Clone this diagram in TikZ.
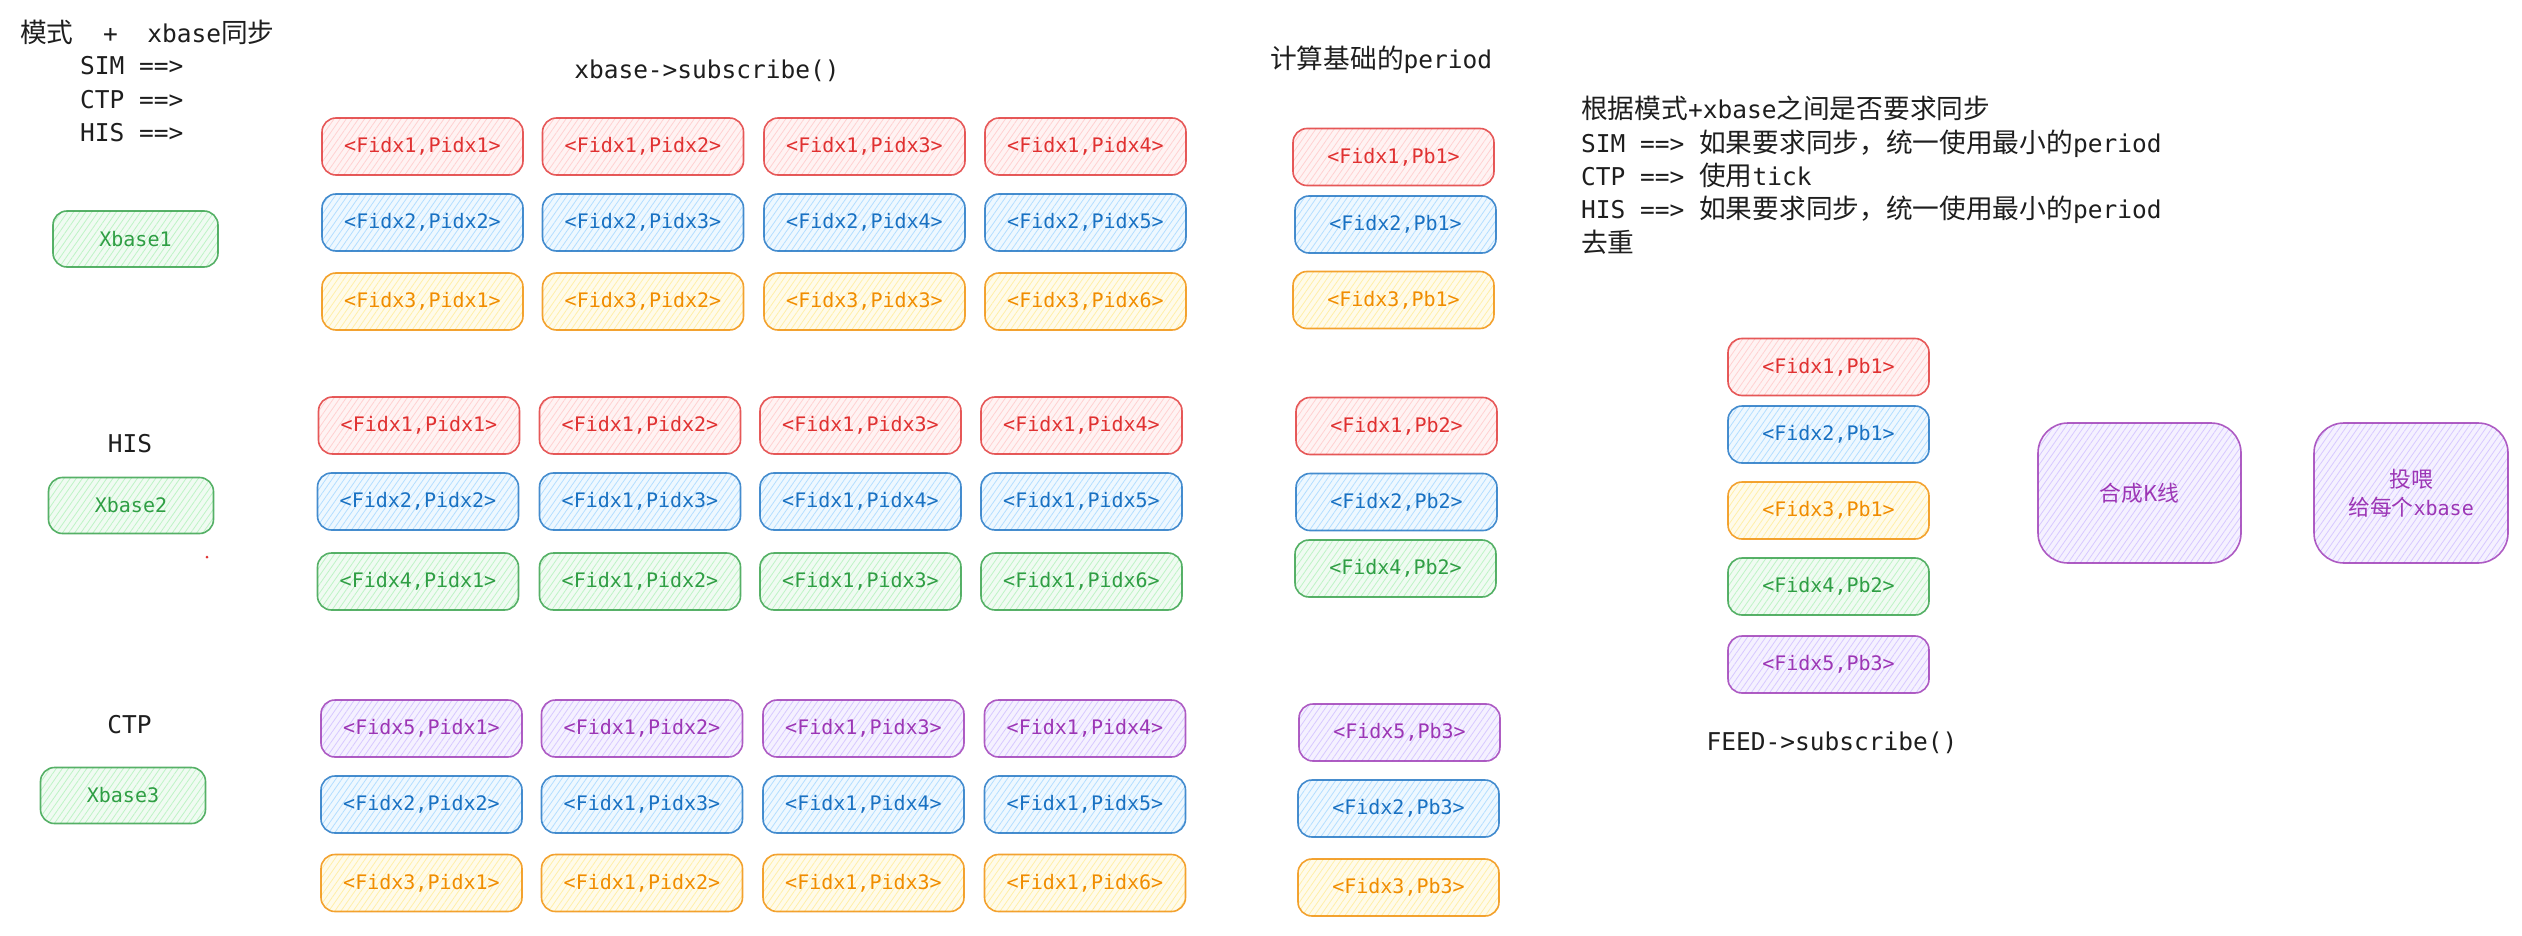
\documentclass[tikz,border=0pt]{standalone}
\usepackage{fontspec}
\setmainfont{DejaVu Sans Mono}
\setmonofont{DejaVu Sans Mono}
\newfontfamily\cjk[Scale=1.09]{Noto Sans CJK SC}
\usetikzlibrary{patterns.meta}
\definecolor{sR}{HTML}{E03131}\definecolor{hR}{HTML}{FFC9C9}\definecolor{bR}{HTML}{FFF3F3}
\definecolor{sB}{HTML}{1971C2}\definecolor{hB}{HTML}{A5D8FF}\definecolor{bB}{HTML}{EEF8FF}
\definecolor{sO}{HTML}{F08C00}\definecolor{hO}{HTML}{FFEC99}\definecolor{bO}{HTML}{FFFBEA}
\definecolor{sG}{HTML}{2F9E44}\definecolor{hG}{HTML}{B2F2BB}\definecolor{bG}{HTML}{F0FBF2}
\definecolor{sP}{HTML}{9C36B5}\definecolor{hP}{HTML}{D0BFFF}\definecolor{bP}{HTML}{F5F1FF}
\definecolor{ink}{HTML}{1E1E1E}
\tikzset{
  boxbase/.style={rounded corners=14pt, minimum width=201pt, minimum height=57pt, inner sep=0pt,
    line width=1.6pt, draw opacity=0.8,
    font=\ttfamily\fontsize{20pt}{28pt}\selectfont,
    pattern={Lines[angle=55,distance=5pt,line width=0.8pt]}},
  cred/.style={boxbase, draw=sR, text=sR, preaction={fill=bR}, pattern color=hR},
  cblue/.style={boxbase, draw=sB, text=sB, preaction={fill=bB}, pattern color=hB},
  corange/.style={boxbase, draw=sO, text=sO, preaction={fill=bO}, pattern color=hO},
  cgreen/.style={boxbase, draw=sG, text=sG, preaction={fill=bG}, pattern color=hG},
  cpurple/.style={boxbase, draw=sP, text=sP, preaction={fill=bP}, pattern color=hP},
  xb/.style={cgreen, minimum width=165pt, minimum height=56pt},
  bigbox/.style={cpurple, rounded corners=30pt, minimum height=140pt, align=center},
  txt/.style={inner sep=0pt, text=ink, font=\ttfamily\fontsize{24.5pt}{30pt}\selectfont},
}
\begin{document}
\begin{tikzpicture}[x=1pt,y=-1pt]
\useasboundingbox (0,0) rectangle (2522,936);
\fill[white] (0,0) rectangle (2522,936);

% header texts
\node[txt, anchor=base west] (hdr) at (20,43) {{\cjk 模式}~~+~~xbase{\cjk 同步}};
\node[txt, anchor=base west] (hsim) at (80,75) {SIM ==>};
\node[txt, anchor=base west] (hctp) at (80,109) {CTP ==>};
\node[txt, anchor=base west] (hhis) at (80,142) {HIS ==>};
\node[txt] (xsub) at (707,71) {xbase->subscribe()};
\node[txt, anchor=west] (ptitle) at (1270,60) {{\cjk 计算基础的}period};

\node[txt, anchor=base west] (r1) at (1581,119) {{\cjk 根据模式}+xbase{\cjk 之间是否要求同步}};
\node[txt, anchor=base west] (r2) at (1581,152.3) {SIM ==> {\cjk 如果要求同步，统一使用最小的}period};
\node[txt, anchor=base west] (r3) at (1581,185.6) {CTP ==> {\cjk 使用}tick};
\node[txt, anchor=base west] (r4) at (1581,219) {HIS ==> {\cjk 如果要求同步，统一使用最小的}period};
\node[txt, anchor=base west] (r5) at (1581,252.3) {{\cjk 去重}};

\node[txt] (lhis) at (130,444) {HIS};
\node[txt] (lctp) at (129.5,725) {CTP};
\node[txt] (feedsub) at (1832,743) {FEED->subscribe()};

% xbase boxes
\node[xb] (xb1) at (135.5,239) {Xbase1};
\node[xb] (xb2) at (131,505.5) {Xbase2};
\node[xb] (xb3) at (123,795.5) {Xbase3};
\node[circle, fill=sR, inner sep=0pt, minimum size=3pt] (dot) at (207,557) {};

% SIM block
\node[cred] (a11) at (422.5,146.5) {<Fidx1,Pidx1>};
\node[cred] (a12) at (643,146.5) {<Fidx1,Pidx2>};
\node[cred] (a13) at (864.5,146.5) {<Fidx1,Pidx3>};
\node[cred] (a14) at (1085.5,146.5) {<Fidx1,Pidx4>};
\node[cblue] (a21) at (422.5,222.5) {<Fidx2,Pidx2>};
\node[cblue] (a22) at (643,222.5) {<Fidx2,Pidx3>};
\node[cblue] (a23) at (864.5,222.5) {<Fidx2,Pidx4>};
\node[cblue] (a24) at (1085.5,222.5) {<Fidx2,Pidx5>};
\node[corange] (a31) at (422.5,301.5) {<Fidx3,Pidx1>};
\node[corange] (a32) at (643,301.5) {<Fidx3,Pidx2>};
\node[corange] (a33) at (864.5,301.5) {<Fidx3,Pidx3>};
\node[corange] (a34) at (1085.5,301.5) {<Fidx3,Pidx6>};

% HIS block
\node[cred] (b11) at (419,425.5) {<Fidx1,Pidx1>};
\node[cred] (b12) at (640,425.5) {<Fidx1,Pidx2>};
\node[cred] (b13) at (860.5,425.5) {<Fidx1,Pidx3>};
\node[cred] (b14) at (1081.5,425.5) {<Fidx1,Pidx4>};
\node[cblue] (b21) at (418,501.5) {<Fidx2,Pidx2>};
\node[cblue] (b22) at (640,501.5) {<Fidx1,Pidx3>};
\node[cblue] (b23) at (860.5,501.5) {<Fidx1,Pidx4>};
\node[cblue] (b24) at (1081.5,501.5) {<Fidx1,Pidx5>};
\node[cgreen] (b31) at (418,581.5) {<Fidx4,Pidx1>};
\node[cgreen] (b32) at (640,581.5) {<Fidx1,Pidx2>};
\node[cgreen] (b33) at (860.5,581.5) {<Fidx1,Pidx3>};
\node[cgreen] (b34) at (1081.5,581.5) {<Fidx1,Pidx6>};

% CTP block
\node[cpurple] (c11) at (421.5,728.5) {<Fidx5,Pidx1>};
\node[cpurple] (c12) at (642,728.5) {<Fidx1,Pidx2>};
\node[cpurple] (c13) at (863.5,728.5) {<Fidx1,Pidx3>};
\node[cpurple] (c14) at (1085,728.5) {<Fidx1,Pidx4>};
\node[cblue] (c21) at (421.5,804.5) {<Fidx2,Pidx2>};
\node[cblue] (c22) at (642,804.5) {<Fidx1,Pidx3>};
\node[cblue] (c23) at (863.5,804.5) {<Fidx1,Pidx4>};
\node[cblue] (c24) at (1085,804.5) {<Fidx1,Pidx5>};
\node[corange] (c31) at (421.5,883) {<Fidx3,Pidx1>};
\node[corange] (c32) at (642,883) {<Fidx1,Pidx2>};
\node[corange] (c33) at (863.5,883) {<Fidx1,Pidx3>};
\node[corange] (c34) at (1085,883) {<Fidx1,Pidx6>};

% period column
\node[cred] (p11) at (1393.5,157) {<Fidx1,Pb1>};
\node[cblue] (p12) at (1395.5,224.5) {<Fidx2,Pb1>};
\node[corange] (p13) at (1393.5,300) {<Fidx3,Pb1>};
\node[cred] (p21) at (1396.5,426) {<Fidx1,Pb2>};
\node[cblue] (p22) at (1396.5,502) {<Fidx2,Pb2>};
\node[cgreen] (p23) at (1395.5,568.5) {<Fidx4,Pb2>};
\node[cpurple] (p31) at (1399.5,732.5) {<Fidx5,Pb3>};
\node[cblue] (p32) at (1398.5,808.5) {<Fidx2,Pb3>};
\node[corange] (p33) at (1398.5,887.5) {<Fidx3,Pb3>};

% FEED column
\node[cred] (f1) at (1828.5,367) {<Fidx1,Pb1>};
\node[cblue] (f2) at (1828.5,434.5) {<Fidx2,Pb1>};
\node[corange] (f3) at (1828.5,510.5) {<Fidx3,Pb1>};
\node[cgreen] (f4) at (1828.5,586.5) {<Fidx4,Pb2>};
\node[cpurple] (f5) at (1828.5,664.5) {<Fidx5,Pb3>};

% big boxes
\node[bigbox, minimum width=203pt] (kline) at (2139.5,493) {{\cjk 合成K线}};
\node[bigbox, minimum width=194pt] (feed) at (2411,493) {{\cjk 投喂}\\{\cjk 给每个}xbase};
\end{tikzpicture}
\end{document}
